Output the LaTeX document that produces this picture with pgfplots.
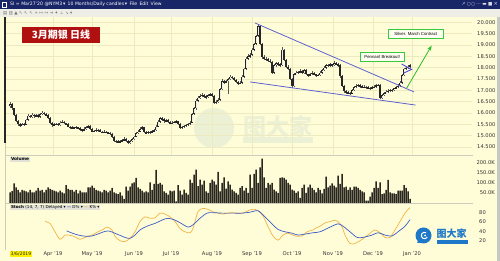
\documentclass[border=0pt]{standalone}
\usepackage{pgfplots}
\pgfplotsset{compat=1.18}
\usepackage{pgfplotstable}
\usepackage{fontspec}
\setmainfont{DejaVu Sans}
\newfontfamily\cjk{Noto Sans CJK SC}
\newfontfamily\arial{Liberation Sans}
\usetikzlibrary{arrows.meta}
\definecolor{cream}{RGB}{255,253,216}
\definecolor{gridc}{RGB}{238,234,192}
\definecolor{navy}{RGB}{24,38,104}
\definecolor{tool}{RGB}{238,238,230}
\definecolor{wedge}{RGB}{96,96,210}
\definecolor{arrowg}{RGB}{40,190,40}
\definecolor{boxg}{RGB}{60,200,60}
\definecolor{redbox}{RGB}{176,16,16}
\definecolor{kcol}{RGB}{240,180,70}
\definecolor{dcol}{RGB}{60,90,200}
\definecolor{volc}{RGB}{40,38,30}
\definecolor{labbox}{RGB}{226,226,214}
\definecolor{logob}{RGB}{30,120,200}
\definecolor{wm}{RGB}{236,240,212}
\definecolor{sep}{RGB}{205,205,190}

\pgfplotstableread{
o h l c
16.30 16.48 16.22 16.40
16.40 16.44 16.15 16.20
16.20 16.24 15.85 15.90
15.90 15.95 15.60 15.65
15.65 15.70 15.44 15.50
15.50 15.56 15.40 15.45
15.45 15.58 15.42 15.52
15.52 15.56 15.42 15.48
15.48 15.75 15.45 15.70
15.70 15.94 15.66 15.88
15.88 15.92 15.76 15.82
15.82 15.98 15.78 15.92
15.92 15.96 15.80 15.86
15.86 15.96 15.82 15.90
15.90 15.94 15.78 15.84
15.84 16.00 15.80 15.95
15.95 16.10 15.90 16.02
16.02 16.06 15.90 15.96
15.96 16.00 15.85 15.90
15.90 15.94 15.74 15.80
15.80 15.84 15.50 15.55
15.55 15.60 15.40 15.45
15.45 15.56 15.42 15.50
15.50 15.58 15.46 15.52
15.52 15.56 15.42 15.48
15.48 15.64 15.44 15.58
15.58 15.68 15.54 15.62
15.62 15.66 15.50 15.55
15.55 15.58 15.45 15.50
15.50 15.54 15.36 15.40
15.40 15.44 15.28 15.32
15.32 15.42 15.28 15.36
15.36 15.40 15.30 15.34
15.34 15.44 15.30 15.38
15.38 15.40 15.28 15.33
15.33 15.36 15.22 15.28
15.28 15.30 15.18 15.24
15.24 15.36 15.20 15.30
15.30 15.44 15.26 15.38
15.38 15.48 15.34 15.42
15.42 15.45 15.24 15.28
15.28 15.32 15.14 15.18
15.18 15.26 15.14 15.20
15.20 15.32 15.16 15.26
15.26 15.30 15.18 15.24
15.24 15.28 15.14 15.18
15.18 15.22 15.10 15.15
15.15 15.24 15.12 15.18
15.18 15.22 15.10 15.14
15.14 15.18 15.08 15.12
15.12 15.16 15.02 15.08
15.08 15.12 14.90 14.95
14.95 14.98 14.72 14.78
14.78 14.82 14.68 14.74
14.74 14.80 14.66 14.72
14.72 14.82 14.68 14.76
14.76 14.86 14.72 14.80
14.80 14.92 14.76 14.86
14.86 14.90 14.74 14.78
14.78 14.82 14.62 14.68
14.68 14.80 14.64 14.76
14.76 14.90 14.72 14.86
14.86 15.00 14.82 14.95
14.95 15.15 14.92 15.10
15.10 15.24 15.06 15.18
15.18 15.36 15.14 15.30
15.30 15.42 15.26 15.36
15.36 15.40 15.10 15.15
15.15 15.20 15.06 15.12
15.12 15.22 15.08 15.16
15.16 15.20 15.08 15.14
15.14 15.26 15.10 15.20
15.20 15.30 15.16 15.24
15.24 15.46 15.20 15.40
15.40 15.68 15.36 15.62
15.62 15.84 15.58 15.78
15.78 15.82 15.66 15.72
15.72 15.76 15.58 15.64
15.64 15.74 15.60 15.68
15.68 15.72 15.54 15.60
15.60 15.64 15.50 15.55
15.55 15.64 15.50 15.58
15.58 15.66 15.54 15.60
15.60 15.70 15.56 15.63
15.63 15.66 15.46 15.50
15.50 15.54 15.30 15.34
15.34 15.44 15.30 15.38
15.38 15.48 15.34 15.44
15.44 15.52 15.40 15.47
15.47 15.58 15.44 15.52
15.52 15.64 15.48 15.58
15.58 16.00 15.54 15.95
15.95 16.26 15.90 16.20
16.20 16.62 16.15 16.55
16.55 16.74 16.50 16.68
16.68 16.82 16.62 16.75
16.75 16.88 16.70 16.80
16.80 16.84 16.68 16.74
16.74 16.78 16.62 16.70
16.70 16.84 16.66 16.78
16.78 16.90 16.74 16.82
16.82 16.86 16.70 16.76
16.76 16.80 16.38 16.44
16.44 16.56 16.40 16.50
16.50 16.64 16.46 16.58
16.58 17.10 16.54 17.05
17.05 17.48 17.00 17.40
17.40 17.46 17.30 17.36
17.36 17.46 17.32 17.40
17.40 17.54 16.85 17.48
17.48 17.68 17.44 17.60
17.60 17.64 17.48 17.54
17.54 17.58 17.40 17.46
17.46 17.50 17.32 17.38
17.38 17.42 17.24 17.30
17.30 17.40 17.26 17.34
17.34 17.66 17.30 17.60
17.60 18.00 17.56 17.95
17.95 18.46 17.90 18.40
18.40 18.58 18.34 18.50
18.50 18.66 18.44 18.56
18.56 18.86 18.50 18.80
18.80 19.10 18.74 19.05
19.05 19.46 19.00 19.40
19.40 19.92 19.36 19.82
19.82 19.86 18.98 19.05
19.05 19.10 18.38 18.45
18.45 18.54 18.34 18.40
18.40 18.48 18.30 18.36
18.36 18.42 18.24 18.30
18.30 18.36 18.20 18.26
18.26 18.30 17.72 17.78
17.78 18.16 17.74 18.10
18.10 18.26 18.04 18.20
18.20 18.24 18.08 18.14
18.14 18.20 18.04 18.10
18.10 18.90 18.06 18.80
18.80 18.84 18.30 18.35
18.35 18.40 18.00 18.05
18.05 18.10 17.90 17.95
17.95 18.00 17.46 17.50
17.50 17.56 17.12 17.18
17.18 17.76 17.14 17.70
17.70 17.84 17.66 17.78
17.78 17.86 17.72 17.80
17.80 17.92 17.76 17.84
17.84 17.88 17.70 17.75
17.75 17.96 17.72 17.90
17.90 17.94 17.66 17.70
17.70 17.74 17.60 17.66
17.66 17.78 17.62 17.72
17.72 17.84 17.68 17.78
17.78 17.82 17.66 17.70
17.70 17.74 17.60 17.66
17.66 17.74 17.62 17.68
17.68 17.84 17.64 17.78
17.78 17.96 17.74 17.90
17.90 18.06 17.86 18.00
18.00 18.18 17.96 18.12
18.12 18.16 18.02 18.08
18.08 18.20 18.04 18.14
18.14 18.18 18.04 18.10
18.10 18.30 18.06 18.20
18.20 18.24 18.10 18.15
18.15 18.20 18.04 18.10
18.10 18.14 17.56 17.62
17.62 17.66 17.14 17.20
17.20 17.24 16.90 16.95
16.95 17.00 16.82 16.88
16.88 16.96 16.84 16.90
16.90 16.94 16.80 16.85
16.85 17.06 16.82 17.00
17.00 17.20 16.96 17.14
17.14 17.26 17.10 17.20
17.20 17.30 17.16 17.24
17.24 17.28 17.12 17.18
17.18 17.22 17.08 17.14
17.14 17.22 17.10 17.16
17.16 17.20 17.04 17.10
17.10 17.18 17.06 17.12
17.12 17.16 17.02 17.08
17.08 17.20 17.04 17.14
17.14 17.22 17.10 17.16
17.16 17.28 17.12 17.22
17.22 17.30 17.18 17.25
17.25 17.28 16.60 16.66
16.66 16.84 16.62 16.78
16.78 16.92 16.74 16.86
16.86 17.00 16.82 16.94
16.94 17.04 16.90 16.98
16.98 17.08 16.94 17.02
17.02 17.06 16.94 17.00
17.00 17.12 16.96 17.08
17.08 17.20 17.04 17.14
17.14 17.26 17.10 17.20
17.20 17.40 17.16 17.34
17.34 17.72 17.30 17.66
17.66 18.00 17.62 17.95
17.95 18.06 17.88 17.98
17.98 18.12 17.94 18.05
18.05 18.18 18.00 18.10
}\price

\pgfplotstableread{
v
52
58
96
77
64
52
64
60
57
52
64
52
52
60
74
60
64
52
64
77
69
64
60
57
52
60
52
47
88
69
64
64
56
64
47
60
52
52
52
77
77
85
74
64
60
57
52
64
60
52
60
74
52
47
44
52
36
20
80
60
80
96
101
123
77
69
60
52
57
52
101
64
93
162
93
98
90
57
49
41
60
57
60
8
87
60
41
65
49
41
114
98
139
163
82
114
90
109
57
49
98
114
106
90
152
57
98
126
70
106
90
65
57
49
41
74
82
60
74
49
139
74
142
163
98
175
217
126
74
98
90
98
65
57
49
123
126
123
114
98
90
65
60
49
57
25
74
90
49
77
90
74
64
52
74
64
47
69
129
77
85
96
85
77
134
93
142
77
80
64
77
64
80
80
74
64
57
52
11
11
31
52
74
106
74
101
44
47
64
113
52
47
47
44
60
60
60
88
74
57
20
}\vol

\pgfplotsset{
  panel/.style={
    scale only axis, width=466pt,
    xmin=-2, xmax=231,
    axis line style={draw=none},
    major tick length=0pt,
    xtick={21.5,41,62,80.5,101,121,141,161.5,181.5,201},
    tick label style={font=\fontsize{5.2}{6}\selectfont, text=black!80},
    /pgf/number format/assume math mode=true,
    yticklabel pos=right,
    anchor=south west,
  }
}

\begin{document}
\begin{tikzpicture}[x=1pt,y=1pt]
\useasboundingbox (0,0) rectangle (500,261);
\fill[cream] (0,0) rectangle (500,261);
% header bar
\fill[navy] (0,252) rectangle (500,261);
\draw[white, line width=0.5pt] (2,254) rectangle (6,259);
\node[anchor=west, text=white, inner sep=0pt, font=\fontsize{4.6}{5}\selectfont] at (10,256.5)
  {SI = Mar27'20 @NYM3\,▾\enspace 10 Months/Daily candles\,▾\enspace File\enspace Edit\enspace View};
\node[anchor=east, text=white!85!navy, inner sep=0pt, font=\fontsize{4.6}{5}\selectfont] at (498,256.5)
  {↗ ○○ ··· ▬ ■ ✕};
% toolbar
\fill[tool] (0,244) rectangle (500,252);
\node[anchor=west, text=black!55, inner sep=0pt, font=\fontsize{4.4}{5}\selectfont] at (3,248)
  {▤ ▥ ▲ ↖ ↖ ↖ + ↦ ↦ ⇥ ✦ ⊥ ↘ ▾};
% left bar and right border
\fill[black!85] (4,118) rectangle (6.3,244);
\fill[black!22] (496.5,0) rectangle (500,244);
% watermark
\fill[wm] (214,133) circle (20);
\node[text=wm, font=\cjk\bfseries\fontsize{23}{24}\selectfont, inner sep=0pt] at (278,134) {图大家};
\fill[wm] (243,118) rectangle (313,124);

% ---------- price panel ----------
\begin{axis}[panel, at={(6pt,106pt)}, height=138pt,
  ymin=14.147, ymax=20.234,
  ytick={14.5,15,15.5,16,16.5,17,17.5,18,18.5,19,19.5,20},
  yticklabel style={anchor=west, inner sep=0pt, xshift=5pt,
    /pgf/number format/.cd, fixed, fixed zerofill, precision=3},
  xticklabels={},
  xmajorgrids, ymajorgrids, grid style={gridc, line width=0.5pt},
  clip=false]
  % wicks
  \addplot[draw=none, mark=none, forget plot,
    error bars/.cd, y dir=both, y explicit, error mark=none,
    error bar style={draw=black!65, line width=0.45pt}]
    table[x expr=\coordindex, y expr={(\thisrow{h}+\thisrow{l})/2},
          y error expr={(\thisrow{h}-\thisrow{l})/2}]{\price};
  % bodies
  \addplot[draw=none, mark=none, forget plot,
    error bars/.cd, y dir=both, y explicit, error mark=none,
    error bar style={draw=black!85, line width=1.25pt}]
    table[x expr=\coordindex, y expr={(\thisrow{o}+\thisrow{c})/2},
          y error expr={max(abs(\thisrow{c}-\thisrow{o})/2,0.015)}]{\price};
  % hollow up candles
  \addplot[draw=none, mark=none, forget plot,
    error bars/.cd, y dir=both, y explicit, error mark=none,
    error bar style={draw=white!92!black, line width=0.55pt}]
    table[x expr=\coordindex, y expr={(\thisrow{o}+\thisrow{c})/2},
          y error expr={max((\thisrow{c}-\thisrow{o})/2-0.03,0)}]{\price};
  % wedge lines
  \addplot[wedge, line width=0.8pt, mark=none] coordinates {(122.5,19.97) (202,16.93)};
  \addplot[wedge, line width=0.8pt, mark=none] coordinates {(120,17.37) (202.75,16.35)};
  % green arrow
  \draw[arrowg, line width=0.8pt, -{Stealth[length=5pt,width=4pt]}] (axis cs:198.3,17.09) -- (axis cs:210.8,18.97);
  % blue chevron
  \draw[wedge!80!blue, line width=0.9pt] (axis cs:195.8,18.16) -- (axis cs:200.8,17.92) -- (axis cs:196.8,17.76);
  % annotations
  \node[draw=boxg, line width=0.8pt, fill=white!70!cream, font=\arial\fontsize{4.3}{5}\selectfont,
        inner sep=1pt, minimum width=55pt, minimum height=9pt] at (axis cs:202.9,19.50) {Silver. March Contract};
  \node[draw=boxg, line width=0.8pt, fill=white!70!cream, font=\arial\fontsize{4.3}{5}\selectfont,
        inner sep=1pt, minimum width=44pt, minimum height=9pt] at (axis cs:186.1,18.46) {Pennant Breakout!};
\end{axis}

% ---------- volume panel ----------
\begin{axis}[panel, at={(6pt,58pt)}, height=48pt,
  ymin=0, ymax=235,
  ytick={50,100,150,200}, yticklabels={50.0K,100.0K,150.0K,200.0K},
  yticklabel style={anchor=east, inner sep=0pt, xshift=23pt},
  xticklabels={}]
  \addplot[ybar, bar width=1.5pt, fill=volc, draw=none]
    table[x expr=\coordindex, y=v]{\vol};
\end{axis}

% ---------- stochastic panel ----------
\begin{axis}[panel, at={(6pt,11pt)}, height=47pt,
  ymin=0, ymax=100.7,
  ytick={20,40,60,80},
  yticklabel style={anchor=west, inner sep=0pt, xshift=7pt},
  xticklabels={Apr '19,May '19,Jun '19,Jul '19,Aug '19,Sep '19,Oct '19,Nov '19,Dec '19,Jan '20},
  xticklabel style={anchor=north, inner sep=0pt, yshift=-1.6pt}]
  \addplot[kcol, line width=0.7pt, smooth, mark=none] coordinates {
    (17.5,61) (20,57) (22.5,39) (25,23) (27.5,32) (29,32) (31.5,30) (35,23) (37.5,27)
    (41,32) (44,39) (46.5,44) (48.5,49) (51,43) (52.5,29) (55,20) (57.5,18) (60,25)
    (62.5,39) (65,61) (67.5,71) (70,68) (72.5,69) (75,79) (77.5,77) (80,71) (82.5,61)
    (85,46) (87.5,39) (90,37) (91.5,46) (94,82) (96.5,89) (99,87) (101.5,82) (104,79)
    (106.5,77) (110,80) (113.5,79) (116.5,79) (120,86) (122.5,87) (124,84) (126.5,73)
    (129,50) (131.5,30) (134,21) (136.5,32) (139,36) (142.5,30) (146,30) (148.5,39)
    (151.5,43) (152.5,46) (155,51) (157.5,58) (160,61) (162.5,64) (164,61) (166,50)
    (167.5,32) (170,14) (172.5,14) (175,20) (177.5,27) (180,36) (182.5,43) (185,37)
    (187.5,27) (190,27) (192.5,43) (195,61) (197.5,79) (200,91)};
  \addplot[dcol, line width=0.7pt, smooth, mark=none] coordinates {
    (28.3,41) (32.5,34) (36.5,30) (41,30) (45,36) (49,41) (53.5,34) (57.5,27) (60,25)
    (62.5,32) (65,43) (68.5,51) (72.5,57) (76,64) (79,68) (82.5,64) (86,56) (89,49)
    (91.5,54) (95,68) (98.5,79) (101.5,80) (106,79) (111,79) (116,79) (120,81) (124,84)
    (127.5,71) (131,56) (134,44) (137.5,39) (141,36) (144,32) (147.5,34) (151.5,37)
    (155,39) (160,49) (164,56) (166.5,51) (170,39) (173.5,27) (176.5,27) (181,32)
    (184,37) (187.5,32) (191,30) (194,39) (197.5,51) (200,65)};
\end{axis}

% separators
\draw[sep, line width=0.5pt] (6,106) -- (473,106);
\draw[sep, line width=0.5pt] (6,58) -- (473,58);
\draw[sep, line width=0.6pt] (5,11) -- (5,118);

% panel labels
\node[fill=labbox, inner sep=0.8pt, anchor=west, font=\bfseries\fontsize{4.3}{5}\selectfont] at (10,101.7) {Volume};
\node[fill=labbox, inner sep=0.8pt, anchor=west, font=\fontsize{4.1}{5}\selectfont] at (10,53.5)
  {\textbf{Stoch} (14, 7, 7) Delayed ▾ \textcolor{dcol}{\textbf{—}} D\% ▾ \textcolor{kcol}{\textbf{—}} K\% ▾};

% date label
\node[fill=yellow, inner sep=0.8pt, font=\fontsize{4.6}{5}\selectfont, text=black!85] at (21,7) {3/6/2019};

% red title box
\node[fill=redbox, minimum width=78pt, minimum height=16pt, inner sep=0pt, text=white,
      font=\cjk\bfseries\fontsize{10}{12}\selectfont] at (61,226) {3月期银 日线};

% logo bottom right
\fill[logob] (423.5,25.5) circle (8);
\fill[logob] (417,18) -- (421,18) -- (419,22) -- cycle;
\draw[white, line width=1pt] (424.5,25.5) ++(60:3.2) arc (60:330:3.2);
\fill[white] (425,25.5) circle (1);
\node[text=logob, inner sep=0pt, font=\cjk\bfseries\fontsize{10}{12}\selectfont, anchor=west] at (436.5,27.5) {图大家};
\fill[logob] (437,16.7) rectangle (468,21);
\end{tikzpicture}
\end{document}
